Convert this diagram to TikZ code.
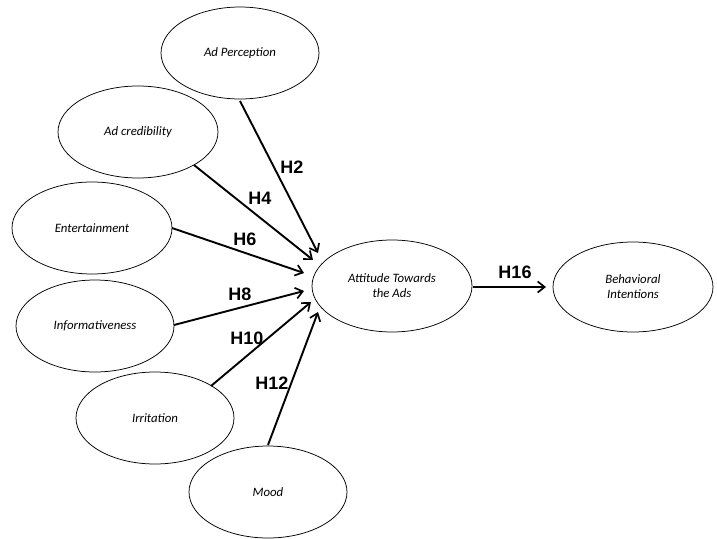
\documentclass[tikz,border=0pt]{standalone}
\usepackage{fontspec}
\setmainfont{Liberation Sans}
\newfontfamily\nodefont{Carlito}
\usetikzlibrary{shapes.geometric,arrows.meta}
\begin{document}
\begin{tikzpicture}[x=1pt,y=-1pt,
  construct/.style={ellipse,draw,line width=0.75pt,minimum width=158pt,minimum height=92pt,inner sep=0pt,align=center,font=\nodefont\itshape\fontsize{12.8}{15}\selectfont},
  path/.style={line width=1.9pt,-{Straight Barb[length=7pt,width=11pt,line width=1.7pt]}},
  hyp/.style={font=\bfseries\fontsize{18}{20}\selectfont,inner sep=0pt}]
\useasboundingbox (0,0) rectangle (717,538);
\node[construct] (ap) at (240,53) {Ad Perception};
\node[construct,minimum width=160pt] (ac) at (138,132) {Ad credibility};
\node[construct,minimum width=160pt] (en) at (92,228) {Entertainment};
\node[construct] (inf) at (95,326) {Informativeness};
\node[construct] (irr) at (155,418) {Irritation};
\node[construct] (mood) at (268,492) {Mood};
\node[construct,minimum width=160pt] (att) at (392,286) {Attitude Towards\\the Ads};
\node[construct,minimum width=160pt,minimum height=90pt] (bi) at (633,287) {Behavioral\\Intentions};
\coordinate (ap1) at (240,101); \coordinate (ap2) at (318,253);
\coordinate (ac1) at (194,165); \coordinate (ac2) at (313,260);
\coordinate (en1) at (172,228); \coordinate (en2) at (304,273);
\coordinate (in1) at (174,325); \coordinate (in2) at (304,291);
\coordinate (ir1) at (211,386); \coordinate (ir2) at (311,302);
\coordinate (mo1) at (268,445); \coordinate (mo2) at (318,312);
\coordinate (at1) at (473,287); \coordinate (bi2) at (546,287);
\draw[path] (ap1) -- (ap2);
\draw[path] (ac1) -- (ac2);
\draw[path] (en1) -- (en2);
\draw[path] (in1) -- (in2);
\draw[path] (ir1) -- (ir2);
\draw[path] (mo1) -- (mo2);
\draw[path] (at1) -- (bi2);
\node[hyp] (h2) at (292,167) {H2};
\node[hyp] (h4) at (260,198) {H4};
\node[hyp] (h6) at (245,239) {H6};
\node[hyp] (h8) at (240,294) {H8};
\node[hyp] (h10) at (247,338) {H10};
\node[hyp] (h12) at (272,383) {H12};
\node[hyp] (h16) at (515,272) {H16};
\end{tikzpicture}
\end{document}
